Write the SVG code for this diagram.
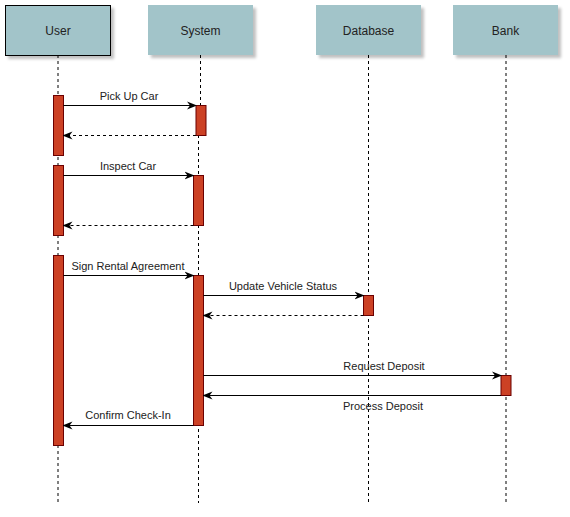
<svg xmlns="http://www.w3.org/2000/svg" width="570" height="517" viewBox="0 0 570 517">
  <defs>
    <filter id="shadow" x="-10%" y="-10%" width="130%" height="140%">
      <feGaussianBlur in="SourceAlpha" stdDeviation="1.5"/>
      <feOffset dx="3" dy="3" result="b"/>
      <feComponentTransfer><feFuncA type="linear" slope="0.25"/></feComponentTransfer>
      <feMerge><feMergeNode/><feMergeNode in="SourceGraphic"/></feMerge>
    </filter>
    <marker id="arrow" viewBox="0 0 10 10" refX="9" refY="5" markerWidth="10" markerHeight="10" markerUnits="userSpaceOnUse" orient="auto">
      <path d="M0,1 L10,5 L0,9 L3,5 Z" fill="#000"/>
    </marker>
  </defs>
  <style>
    .head { fill: #a2c4c9; filter: url(#shadow); }
    .head-text { font-family: "Liberation Sans", Arial, sans-serif; font-size: 12px; fill: #222; text-anchor: middle; }
    .life { stroke: #000; stroke-width: 1; stroke-dasharray: 3 3; fill: none; }
    .act { fill: #cc4125; stroke: #6b0000; stroke-width: 1; }
    .msg { stroke: #000; stroke-width: 1; fill: none; marker-end: url(#arrow); }
    .ret { stroke: #000; stroke-width: 1; fill: none; stroke-dasharray: 3 3; marker-end: url(#arrow); }
    .lbl { font-family: "Liberation Sans", Arial, sans-serif; font-size: 11px; fill: #222; text-anchor: middle; }
  </style>
  <rect width="570" height="517" fill="#fff"/>

  <!-- lifelines -->
  <g id="lifelines">
    <line class="life" x1="58" y1="55" x2="58" y2="503"/>
    <line class="life" x1="200.5" y1="55" x2="200.5" y2="105"/>
    <line class="life" x1="198.5" y1="135" x2="198.5" y2="503"/>
    <line class="life" x1="368.5" y1="55" x2="368.5" y2="503"/>
    <line class="life" x1="506" y1="55" x2="506" y2="503"/>
  </g>

  <g id="user">
    <rect class="head" x="5.5" y="5.5" width="105" height="50" stroke="#000" stroke-width="1"/>
    <text class="head-text" x="58" y="34.5">User</text>
    <rect class="act" x="53.5" y="95.5" width="10" height="60"/>
    <rect class="act" x="53.5" y="165.5" width="10" height="70"/>
    <rect class="act" x="53.5" y="255.5" width="10" height="190"/>
  </g>

  <g id="system">
    <rect class="head" x="148" y="5" width="105" height="50"/>
    <text class="head-text" x="200.5" y="34.5">System</text>
    <rect class="act" x="196" y="105.5" width="10" height="30"/>
    <rect class="act" x="193.5" y="175.5" width="10" height="50"/>
    <rect class="act" x="193.5" y="275.5" width="10" height="150"/>
  </g>

  <g id="database">
    <rect class="head" x="316" y="5" width="105" height="50"/>
    <text class="head-text" x="368.5" y="34.5">Database</text>
    <rect class="act" x="363.5" y="295.5" width="10" height="20"/>
  </g>

  <g id="bank">
    <rect class="head" x="453" y="5" width="105" height="50"/>
    <text class="head-text" x="505.5" y="34.5">Bank</text>
    <rect class="act" x="501" y="375.5" width="10" height="20"/>
  </g>

  <!-- messages -->
  <g id="connectors">
    <line class="msg" x1="63.5" y1="105.5" x2="196" y2="105.5"/>
    <line class="ret" x1="196" y1="135.5" x2="63.5" y2="135.5"/>
    <line class="msg" x1="63.5" y1="175.5" x2="193.5" y2="175.5"/>
    <line class="ret" x1="193.5" y1="225.5" x2="63.5" y2="225.5"/>
    <line class="msg" x1="63.5" y1="275.5" x2="193.5" y2="275.5"/>
    <line class="msg" x1="203.5" y1="295.5" x2="363.5" y2="295.5"/>
    <line class="ret" x1="363.5" y1="315.5" x2="203.5" y2="315.5"/>
    <line class="msg" x1="203.5" y1="375.5" x2="501" y2="375.5"/>
    <line class="msg" x1="501" y1="395.5" x2="203.5" y2="395.5"/>
    <line class="msg" x1="193.5" y1="425.5" x2="63.5" y2="425.5"/>
  </g>

  <g id="labels">
    <text class="lbl" x="129" y="100">Pick Up Car</text>
    <text class="lbl" x="128" y="170">Inspect Car</text>
    <text class="lbl" x="128" y="270">Sign Rental Agreement</text>
    <text class="lbl" x="283" y="290">Update Vehicle Status</text>
    <text class="lbl" x="384" y="370">Request Deposit</text>
    <text class="lbl" x="383" y="410">Process Deposit</text>
    <text class="lbl" x="128" y="419">Confirm Check-In</text>
  </g>
</svg>
